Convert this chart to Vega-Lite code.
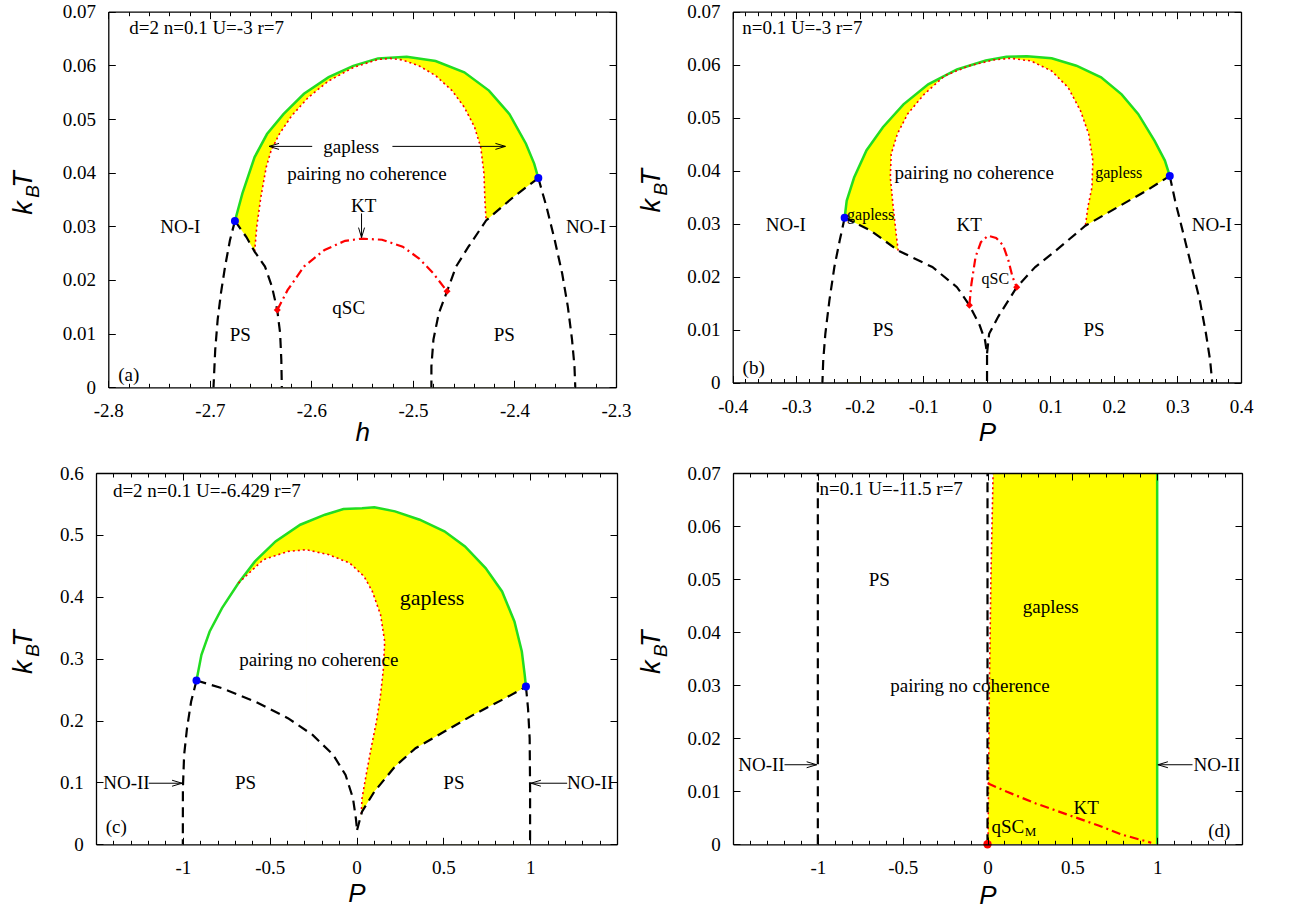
{
"$schema": "https://vega.github.io/schema/vega-lite/v6.json",
"width": 1290, "height": 911, "autosize": {"type": "none"}, "padding": 0, "background": "white",
"config": {
 "view": {"stroke": null},
 "axis": {"labelFont": "Liberation Serif", "labelFontSize": 19, "labelColor": "black", "domainColor": "black", "domainWidth": 1.3, "tickColor": "black", "tickWidth": 1, "grid": false, "zindex": 1, "labelFlush": false, "labelOverlap": false, "titleFont": "Liberation Sans", "titleFontStyle": "italic", "titleFontWeight": "normal", "titleFontSize": 26, "titleColor": "black"},
 "text": {"font": "Liberation Serif", "fontSize": 19, "color": "black"}
},
"datasets": {
 "a_green": [{"x":-2.6753,"y":0.031},{"x":-2.668,"y":0.0361},{"x":-2.6559,"y":0.0429},{"x":-2.6437,"y":0.0472},{"x":-2.6275,"y":0.0509},{"x":-2.6073,"y":0.0547},{"x":-2.583,"y":0.0578},{"x":-2.5587,"y":0.0599},{"x":-2.5344,"y":0.0613},{"x":-2.5061,"y":0.0616},{"x":-2.4777,"y":0.0608},{"x":-2.4494,"y":0.0587},{"x":-2.4251,"y":0.0553},{"x":-2.4049,"y":0.0509},{"x":-2.3887,"y":0.0454},{"x":-2.3806,"y":0.0417},{"x":-2.3765,"y":0.039}],
 "a_wv": [{"x":-2.677,"y":0.0312},{"x":-2.6753,"y":0.031},{"x":-2.664,"y":0.028},{"x":-2.6559,"y":0.0253},{"x":-2.4279,"y":0.0311},{"x":-2.4008,"y":0.0355},{"x":-2.3765,"y":0.039},{"x":-2.375,"y":0.0392}],
 "a_wl": [{"y":0,"x":-2.6559},{"y":0.0253,"x":-2.6559},{"y":0.0299,"x":-2.6538},{"y":0.0354,"x":-2.6498},{"y":0.041,"x":-2.6445},{"y":0.0441,"x":-2.6397},{"y":0.0472,"x":-2.6316},{"y":0.0506,"x":-2.6194},{"y":0.054,"x":-2.6032},{"y":0.0571,"x":-2.583},{"y":0.0596,"x":-2.5587},{"y":0.0611,"x":-2.5344},{"y":0.0613,"x":-2.5223}],
 "a_wr": [{"y":0,"x":-2.4279},{"y":0.0311,"x":-2.4279},{"y":0.0348,"x":-2.4291},{"y":0.0398,"x":-2.43},{"y":0.0447,"x":-2.4332},{"y":0.0485,"x":-2.4393},{"y":0.0522,"x":-2.4494},{"y":0.0553,"x":-2.4615},{"y":0.0581,"x":-2.4777},{"y":0.0599,"x":-2.4939},{"y":0.061,"x":-2.5101},{"y":0.0612,"x":-2.518}],
 "a_red": [{"x":-2.6559,"y":0.0253},{"x":-2.6538,"y":0.0299},{"x":-2.6498,"y":0.0354},{"x":-2.6445,"y":0.041},{"x":-2.6397,"y":0.0441},{"x":-2.6316,"y":0.0472},{"x":-2.6194,"y":0.0506},{"x":-2.6032,"y":0.054},{"x":-2.583,"y":0.0571},{"x":-2.5587,"y":0.0596},{"x":-2.5344,"y":0.0611},{"x":-2.5223,"y":0.0613},{"x":-2.5101,"y":0.061},{"x":-2.4939,"y":0.0599},{"x":-2.4777,"y":0.0581},{"x":-2.4615,"y":0.0553},{"x":-2.4494,"y":0.0522},{"x":-2.4393,"y":0.0485},{"x":-2.4332,"y":0.0447},{"x":-2.43,"y":0.0398},{"x":-2.4291,"y":0.0348},{"x":-2.4279,"y":0.0311}],
 "a_dash": [
  {"s":1,"x":-2.6753,"y":0.031},{"s":1,"x":-2.6802,"y":0.0274},{"s":1,"x":-2.685,"y":0.0225},{"s":1,"x":-2.6891,"y":0.0175},{"s":1,"x":-2.6923,"y":0.0126},{"s":1,"x":-2.6947,"y":0.007},{"s":1,"x":-2.6964,"y":0},
  {"s":2,"x":-2.6753,"y":0.031},{"s":2,"x":-2.664,"y":0.028},{"s":2,"x":-2.6559,"y":0.0253},{"s":2,"x":-2.6457,"y":0.0225},{"s":2,"x":-2.6389,"y":0.0188},{"s":2,"x":-2.6336,"y":0.0144},{"s":2,"x":-2.6308,"y":0.0101},{"s":2,"x":-2.6296,"y":0.0051},{"s":2,"x":-2.6291,"y":0},
  {"s":3,"x":-2.3765,"y":0.039},{"s":3,"x":-2.4008,"y":0.0355},{"s":3,"x":-2.4279,"y":0.0311},{"s":3,"x":-2.4453,"y":0.0262},{"s":3,"x":-2.4575,"y":0.0225},{"s":3,"x":-2.4664,"y":0.0179},{"s":3,"x":-2.4745,"y":0.0138},{"s":3,"x":-2.4798,"y":0.0089},{"s":3,"x":-2.4818,"y":0.0039},{"s":3,"x":-2.4818,"y":0},
  {"s":4,"x":-2.3765,"y":0.039},{"s":4,"x":-2.3684,"y":0.0336},{"s":4,"x":-2.3603,"y":0.0274},{"s":4,"x":-2.353,"y":0.0212},{"s":4,"x":-2.3474,"y":0.015},{"s":4,"x":-2.3433,"y":0.0089},{"s":4,"x":-2.3409,"y":0.0039},{"s":4,"x":-2.3401,"y":0}],
 "a_kt": [{"x":-2.6336,"y":0.0144},{"x":-2.6235,"y":0.0181},{"x":-2.6073,"y":0.0225},{"x":-2.587,"y":0.0256},{"x":-2.5668,"y":0.0273},{"x":-2.5506,"y":0.0277},{"x":-2.5304,"y":0.0275},{"x":-2.5101,"y":0.0262},{"x":-2.4939,"y":0.024},{"x":-2.4798,"y":0.0212},{"x":-2.4664,"y":0.0179}],
 "a_blue": [{"x":-2.6753,"y":0.031},{"x":-2.3765,"y":0.039}],
 "a_dia": [{"x":-2.6336,"y":0.0144},{"x":-2.4664,"y":0.0179}],
 "a_arr": [{"x1":-2.5992,"x2":-2.6417,"y1":0.0449,"y2":0.0449},{"x1":-2.5202,"x2":-2.4089,"y1":0.0449,"y2":0.0449},{"x1":-2.5506,"x2":-2.5506,"y1":0.0324,"y2":0.0279}],
 "a_head": [{"x":-2.6417,"y":0.0449,"d":"L"},{"x":-2.4089,"y":0.0449,"d":"R"},{"x":-2.5506,"y":0.0279,"d":"D"}],
 "a_lab": [{"x":-2.5607,"y":0.0447,"t":"gapless"},{"x":-2.5453,"y":0.0397,"t":"pairing no coherence"},{"x":-2.5486,"y":0.0338,"t":"KT"},{"x":-2.7291,"y":0.0299,"t":"NO-I"},{"x":-2.3296,"y":0.0299,"t":"NO-I"},{"x":-2.5632,"y":0.0147,"t":"qSC"},{"x":-2.67,"y":0.0098,"t":"PS"},{"x":-2.41,"y":0.0098,"t":"PS"},{"x":-2.7798,"y":0.0022,"t":"(a)"}],
 "a_par": [{"x":-2.7794,"y":0.067,"t":"d=2 n=0.1 U=-3 r=7"}],
 "a_tt": [{"x":-2.883,"y":0.03342,"t":"k"},{"x":-2.883,"y":0.03873,"t":"T"}],
 "a_tb": [{"x":-2.8742,"y":0.03649,"t":"B"}],

 "b_green": [{"x":-0.2238,"y":0.0311},{"x":-0.2206,"y":0.0343},{"x":-0.2089,"y":0.0387},{"x":-0.1895,"y":0.0438},{"x":-0.1636,"y":0.0482},{"x":-0.1312,"y":0.0525},{"x":-0.0923,"y":0.0563},{"x":-0.047,"y":0.0591},{"x":-0.0016,"y":0.0608},{"x":0.0308,"y":0.0615},{"x":0.0632,"y":0.0616},{"x":0.102,"y":0.0612},{"x":0.1409,"y":0.0598},{"x":0.1798,"y":0.0576},{"x":0.2121,"y":0.0544},{"x":0.2381,"y":0.0507},{"x":0.264,"y":0.0456},{"x":0.2802,"y":0.0419},{"x":0.2879,"y":0.039}],
 "b_wv": [{"x":-0.2255,"y":0.0312},{"x":-0.2238,"y":0.0311},{"x":-0.183,"y":0.0287},{"x":-0.1396,"y":0.0249},{"x":0.1551,"y":0.0296},{"x":0.2057,"y":0.0331},{"x":0.251,"y":0.0362},{"x":0.2879,"y":0.039},{"x":0.2895,"y":0.0391}],
 "b_wl": [{"y":0,"x":-0.1396},{"y":0.0249,"x":-0.1396},{"y":0.0281,"x":-0.1428},{"y":0.0331,"x":-0.1474},{"y":0.0387,"x":-0.1519},{"y":0.0431,"x":-0.1506},{"y":0.0469,"x":-0.1409},{"y":0.0507,"x":-0.1247},{"y":0.0544,"x":-0.0988},{"y":0.0579,"x":-0.0664},{"y":0.0598,"x":-0.0275},{"y":0.0609,"x":0.0113},{"y":0.0612,"x":0.0372}],
 "b_wr": [{"y":0,"x":0.1551},{"y":0.0296,"x":0.1551},{"y":0.0331,"x":0.159},{"y":0.0369,"x":0.1655},{"y":0.0419,"x":0.1668},{"y":0.0469,"x":0.1603},{"y":0.0513,"x":0.1474},{"y":0.0557,"x":0.1279},{"y":0.0588,"x":0.102},{"y":0.0607,"x":0.0696},{"y":0.0612,"x":0.0372}],
 "b_red": [{"x":-0.1396,"y":0.0249},{"x":-0.1428,"y":0.0281},{"x":-0.1474,"y":0.0331},{"x":-0.1519,"y":0.0387},{"x":-0.1506,"y":0.0431},{"x":-0.1409,"y":0.0469},{"x":-0.1247,"y":0.0507},{"x":-0.0988,"y":0.0544},{"x":-0.0664,"y":0.0579},{"x":-0.0275,"y":0.0598},{"x":0.0113,"y":0.0609},{"x":0.0372,"y":0.0612},{"x":0.0696,"y":0.0607},{"x":0.102,"y":0.0588},{"x":0.1279,"y":0.0557},{"x":0.1474,"y":0.0513},{"x":0.1603,"y":0.0469},{"x":0.1668,"y":0.0419},{"x":0.1655,"y":0.0369},{"x":0.159,"y":0.0331},{"x":0.1551,"y":0.0296}],
 "b_dash": [
  {"s":1,"x":-0.2238,"y":0.0311},{"s":1,"x":-0.2316,"y":0.0268},{"s":1,"x":-0.24,"y":0.0218},{"s":1,"x":-0.2478,"y":0.0155},{"s":1,"x":-0.2542,"y":0.0092},{"s":1,"x":-0.2575,"y":0.0042},{"s":1,"x":-0.2588,"y":0},
  {"s":2,"x":-0.2238,"y":0.0311},{"s":2,"x":-0.183,"y":0.0287},{"s":2,"x":-0.1396,"y":0.0249},{"s":2,"x":-0.0858,"y":0.0218},{"s":2,"x":-0.047,"y":0.018},{"s":2,"x":-0.0275,"y":0.0146},{"s":2,"x":-0.0113,"y":0.0108},{"s":2,"x":-0.0029,"y":0.008},{"s":2,"x":0.0003,"y":0.0055},{"s":2,"x":0.0003,"y":0},
  {"s":3,"x":0.0003,"y":0.0055},{"s":3,"x":0.0036,"y":0.0092},{"s":3,"x":0.0178,"y":0.0124},{"s":3,"x":0.047,"y":0.018},{"s":3,"x":0.0761,"y":0.0218},{"s":3,"x":0.1085,"y":0.0249},{"s":3,"x":0.1551,"y":0.0296},{"s":3,"x":0.2057,"y":0.0331},{"s":3,"x":0.251,"y":0.0362},{"s":3,"x":0.2879,"y":0.039},
  {"s":4,"x":0.2879,"y":0.039},{"s":4,"x":0.2963,"y":0.0343},{"s":4,"x":0.3093,"y":0.0281},{"s":4,"x":0.3223,"y":0.0218},{"s":4,"x":0.3352,"y":0.0155},{"s":4,"x":0.3449,"y":0.0092},{"s":4,"x":0.3514,"y":0.0042},{"s":4,"x":0.3547,"y":0}],
 "b_kt": [{"x":-0.0275,"y":0.0146},{"x":-0.0243,"y":0.0186},{"x":-0.0178,"y":0.0237},{"x":-0.0094,"y":0.0265},{"x":0.0016,"y":0.0277},{"x":0.0146,"y":0.0273},{"x":0.0256,"y":0.0259},{"x":0.034,"y":0.023},{"x":0.0405,"y":0.0199},{"x":0.047,"y":0.018}],
 "b_blue": [{"x":-0.2238,"y":0.0311},{"x":0.2879,"y":0.039}],
 "b_dia": [{"x":-0.0275,"y":0.0146},{"x":0.047,"y":0.018}],
 "b_lab": [{"x":-0.0198,"y":0.0396,"t":"pairing no coherence"},{"x":-0.3164,"y":0.0298,"t":"NO-I"},{"x":0.354,"y":0.0298,"t":"NO-I"},{"x":-0.0278,"y":0.0298,"t":"KT"},{"x":-0.1629,"y":0.0099,"t":"PS"},{"x":0.1687,"y":0.0099,"t":"PS"},{"x":-0.367,"y":0.0028,"t":"(b)"}],
 "b_sm": [{"x":0.2076,"y":0.0396,"t":"gapless"},{"x":-0.183,"y":0.0316,"t":"gapless"},{"x":0.0133,"y":0.0196,"t":"qSC"}],
 "b_par": [{"x":-0.3851,"y":0.067,"t":"n=0.1 U=-3 r=7"}],
 "b_tt": [{"x":-0.5271,"y":0.03338,"t":"k"},{"x":-0.5271,"y":0.03875,"t":"T"}],
 "b_tb": [{"x":-0.5129,"y":0.03649,"t":"B"}],

 "c_green": [{"x":-0.9214,"y":0.2647},{"x":-0.8929,"y":0.3062},{"x":-0.8455,"y":0.3439},{"x":-0.7744,"y":0.3817},{"x":-0.6795,"y":0.4221},{"x":-0.5847,"y":0.4571},{"x":-0.4661,"y":0.4895},{"x":-0.3238,"y":0.5164},{"x":-0.1815,"y":0.5326},{"x":-0.0748,"y":0.5418},{"x":0.0319,"y":0.5429},{"x":0.1031,"y":0.5445},{"x":0.2216,"y":0.538},{"x":0.3639,"y":0.5245},{"x":0.5062,"y":0.5057},{"x":0.6247,"y":0.4814},{"x":0.7433,"y":0.4464},{"x":0.8382,"y":0.4086},{"x":0.9093,"y":0.3601},{"x":0.952,"y":0.3116},{"x":0.9686,"y":0.2739},{"x":0.9757,"y":0.255}],
 "c_wv": [{"x":-0.02,"y":0.0232},{"x":0.0034,"y":0.0232},{"x":0.0319,"y":0.0528},{"x":0.1031,"y":0.0852},{"x":0.2216,"y":0.1256},{"x":0.3402,"y":0.1553},{"x":0.5062,"y":0.1822},{"x":0.6722,"y":0.2092},{"x":0.8382,"y":0.2334},{"x":0.9449,"y":0.2496},{"x":0.9757,"y":0.255},{"x":0.979,"y":0.2555}],
 "c_wl": [{"y":0,"x":-0.7},{"y":0.42,"x":-0.7},{"y":0.4221,"x":-0.6795},{"y":0.4598,"x":-0.5372},{"y":0.4733,"x":-0.395},{"y":0.476,"x":-0.2883}],
 "c_wr": [{"y":0,"x":0.008},{"y":0.0232,"x":0.008},{"y":0.0474,"x":0.0272},{"y":0.0744,"x":0.0319},{"y":0.1121,"x":0.0556},{"y":0.1553,"x":0.0841},{"y":0.1984,"x":0.1149},{"y":0.2415,"x":0.1386},{"y":0.2846,"x":0.1552},{"y":0.3278,"x":0.1623},{"y":0.3709,"x":0.1386},{"y":0.4086,"x":0.0912},{"y":0.4329,"x":0.0438},{"y":0.4545,"x":-0.0393},{"y":0.4679,"x":-0.1578},{"y":0.476,"x":-0.2883}],
 "c_red": [{"x":-0.6795,"y":0.4221},{"x":-0.5372,"y":0.4598},{"x":-0.395,"y":0.4733},{"x":-0.2883,"y":0.476},{"x":-0.1578,"y":0.4679},{"x":-0.0393,"y":0.4545},{"x":0.0438,"y":0.4329},{"x":0.0912,"y":0.4086},{"x":0.1386,"y":0.3709},{"x":0.1623,"y":0.3278},{"x":0.1552,"y":0.2846},{"x":0.1386,"y":0.2415},{"x":0.1149,"y":0.1984},{"x":0.0841,"y":0.1553},{"x":0.0556,"y":0.1121},{"x":0.0319,"y":0.0744},{"x":0.0272,"y":0.0474}],
 "c_dash": [
  {"s":1,"x":-0.9214,"y":0.2647},{"s":1,"x":-0.9522,"y":0.2307},{"s":1,"x":-0.9759,"y":0.1876},{"s":1,"x":-0.9925,"y":0.1445},{"s":1,"x":-0.9996,"y":0.0906},{"s":1,"x":-1.0,"y":0},
  {"s":2,"x":-0.9214,"y":0.2647},{"s":2,"x":-0.7744,"y":0.2523},{"s":2,"x":-0.5847,"y":0.2307},{"s":2,"x":-0.395,"y":0.2038},{"s":2,"x":-0.2527,"y":0.1768},{"s":2,"x":-0.1341,"y":0.1445},{"s":2,"x":-0.063,"y":0.1121},{"s":2,"x":-0.0203,"y":0.0744},{"s":2,"x":-0.0036,"y":0.042},{"s":2,"x":0.0034,"y":0.0232},
  {"s":3,"x":0.0034,"y":0.0232},{"s":3,"x":0.0319,"y":0.0528},{"s":3,"x":0.1031,"y":0.0852},{"s":3,"x":0.2216,"y":0.1256},{"s":3,"x":0.3402,"y":0.1553},{"s":3,"x":0.5062,"y":0.1822},{"s":3,"x":0.6722,"y":0.2092},{"s":3,"x":0.8382,"y":0.2334},{"s":3,"x":0.9449,"y":0.2496},{"s":3,"x":0.9757,"y":0.255},
  {"s":4,"x":0.9757,"y":0.255},{"s":4,"x":0.9876,"y":0.2199},{"s":4,"x":0.9971,"y":0.1714},{"s":4,"x":0.9995,"y":0.0906},{"s":4,"x":0.9995,"y":0}],
 "c_blue": [{"x":-0.9214,"y":0.2647},{"x":0.9757,"y":0.255}],
 "c_arr": [{"x1":-1.1965,"x2":-1.0044,"y1":0.0987,"y2":0.0987},{"x1":1.2129,"x2":1.0042,"y1":0.0987,"y2":0.0987}],
 "c_head": [{"x":-1.0044,"y":0.0987,"d":"R"},{"x":1.0042,"y":0.0987,"d":"L"}],
 "c_lab": [{"x":-0.2171,"y":0.2981,"t":"pairing no coherence"},{"x":-0.6392,"y":0.0987,"t":"PS"},{"x":0.5607,"y":0.0987,"t":"PS"},{"x":-1.3245,"y":0.0987,"t":"NO-II"},{"x":1.3456,"y":0.0987,"t":"NO-II"},{"x":-1.3838,"y":0.0286,"t":"(c)"}],
 "c_big": [{"x":0.435,"y":0.3978,"t":"gapless"}],
 "c_par": [{"x":-1.4028,"y":0.5704,"t":"d=2 n=0.1 U=-6.429 r=7"}],
 "c_tt": [{"x":-1.9146,"y":0.2863,"t":"k"},{"x":-1.9146,"y":0.3327,"t":"T"}],
 "c_tb": [{"x":-1.8628,"y":0.3133,"t":"B"}],

 "d_red": [{"y":0,"x":0.003},{"y":0.0106,"x":0.006},{"y":0.0294,"x":0.011},{"y":0.05,"x":0.02},{"y":0.07,"x":0.033}],
 "d_green": [{"x":1,"y":0},{"x":1,"y":0.07}],
 "d_dash": [{"s":1,"x":-1,"y":0},{"s":1,"x":-1,"y":0.07},{"s":2,"x":0,"y":0},{"s":2,"x":0,"y":0.07}],
 "d_kt": [{"x":0.001,"y":0.0115},{"x":0.115,"y":0.0099},{"x":0.285,"y":0.0077},{"x":0.48,"y":0.0055},{"x":0.65,"y":0.0036},{"x":0.795,"y":0.0018},{"x":0.965,"y":0.0003}],
 "d_pt": [{"x":0,"y":0}],
 "d_arr": [{"x1":-1.1964,"x2":-1.0069,"y1":0.015,"y2":0.015},{"x1":1.2083,"x2":1.0043,"y1":0.015,"y2":0.015}],
 "d_head": [{"x":-1.0069,"y":0.015,"d":"R"},{"x":1.0043,"y":0.015,"d":"L"}],
 "d_lab": [{"x":-0.6377,"y":0.0499,"t":"PS"},{"x":0.3727,"y":0.0447,"t":"gapless"},{"x":-0.1034,"y":0.0299,"t":"pairing no coherence"},{"x":-1.3324,"y":0.015,"t":"NO-II"},{"x":1.3516,"y":0.015,"t":"NO-II"},{"x":0.5816,"y":0.0069,"t":"KT"},{"x":1.3662,"y":0.0025,"t":"(d)"},{"x":0.1201,"y":0.00333,"t":"qSC"}],
 "d_sub": [{"x":0.2537,"y":0.00226,"t":"M"}],
 "d_par": [{"x":-0.9899,"y":0.0669,"t":"n=0.1 U=-11.5 r=7"}],
 "d_tt": [{"x":-1.9774,"y":0.0334,"t":"k"},{"x":-1.9774,"y":0.03877,"t":"T"}],
 "d_tb": [{"x":-1.9244,"y":0.03651,"t":"B"}]
},
"resolve": {"scale": {"x": "independent", "y": "independent"}, "axis": {"x": "independent", "y": "independent"}},
"layer": [
 {
  "encoding": {"x": {"field":"x","type":"quantitative","scale":{"domain":[-2.8,-2.3],"range":[108.3,616],"nice":false,"zero":false},"axis":null},
               "y": {"field":"y","type":"quantitative","scale":{"domain":[0,0.07],"range":[387.3,11.7],"nice":false,"zero":false},"axis":null}},
  "resolve": {"axis": {"x": "independent", "y": "independent"}},
  "layer": [
   {"data":{"name":"a_green"},"mark":{"type":"area","color":"#ffff00","opacity":1},
    "encoding":{"x":{"field":"x","type":"quantitative","scale":{"domain":[-2.8,-2.3],"range":[108.3,616],"nice":false,"zero":false},
      "axis":{"orient":"bottom","zindex":1,"offset":-523.7,"values":[-2.8,-2.78,-2.76,-2.74,-2.72,-2.7,-2.68,-2.66,-2.64,-2.62,-2.6,-2.58,-2.56,-2.54,-2.52,-2.5,-2.48,-2.46,-2.44,-2.42,-2.4,-2.38,-2.36,-2.34,-2.32,-2.3],
       "labelExpr":"abs(datum.value*10-round(datum.value*10))<0.001 ? ''+datum.value : ''","tickSize":{"condition":{"test":"abs(datum.value*10-round(datum.value*10))<0.001","value":-7},"value":-4},
       "labelPadding":21.5,"title":"h","titleY":52.7,"titleBaseline":"alphabetic"}},
     "y":{"field":"y","type":"quantitative","scale":{"domain":[0,0.07],"range":[387.3,11.7],"nice":false,"zero":false},
      "axis":{"orient":"left","zindex":1,"offset":-108.3,"values":[0,0.01,0.02,0.03,0.04,0.05,0.06,0.07],"labelExpr":"''+datum.value","tickSize":-7,"labelPadding":19.8,"title":null}},
     "y2":{"datum":0}}},
   {"data":{"name":"a_wv"},"mark":{"type":"area","color":"white","opacity":1},
    "encoding":{"x":{"field":"x","type":"quantitative","scale":{"domain":[-2.8,-2.3],"range":[108.3,616],"nice":false,"zero":false},
      "axis":{"orient":"top","zindex":1,"offset":-11.7,"values":[-2.8,-2.78,-2.76,-2.74,-2.72,-2.7,-2.68,-2.66,-2.64,-2.62,-2.6,-2.58,-2.56,-2.54,-2.52,-2.5,-2.48,-2.46,-2.44,-2.42,-2.4,-2.38,-2.36,-2.34,-2.32,-2.3],
       "labels":false,"tickSize":{"condition":{"test":"abs(datum.value*10-round(datum.value*10))<0.001","value":-7},"value":-4},"title":null}},
     "y":{"field":"y","type":"quantitative","scale":{"domain":[0,0.07],"range":[387.3,11.7],"nice":false,"zero":false},
      "axis":{"orient":"right","zindex":1,"offset":-674,"values":[0,0.01,0.02,0.03,0.04,0.05,0.06,0.07],"labels":false,"tickSize":-7,"title":null}},
     "y2":{"datum":0}}},
   {"data":{"name":"a_wl"},"mark":{"type":"area","orient":"horizontal","color":"white","opacity":1},"encoding":{"x2":{"datum":-2.514}}},
   {"data":{"name":"a_wr"},"mark":{"type":"area","orient":"horizontal","color":"white","opacity":1},"encoding":{"x2":{"datum":-2.518}}},
   {"data":{"name":"a_green"},"mark":{"type":"line","color":"#22dd22","strokeWidth":2.5,"order":false}},
   {"data":{"name":"a_red"},"mark":{"type":"line","color":"#ff0000","strokeWidth":1.6,"strokeDash":[2,3],"order":false}},
   {"data":{"name":"a_dash"},"mark":{"type":"line","color":"black","strokeWidth":2.2,"strokeDash":[10,6],"order":false},"encoding":{"detail":{"field":"s","type":"nominal"}}},
   {"data":{"name":"a_kt"},"mark":{"type":"line","color":"#ff0000","strokeWidth":2.2,"strokeDash":[9,4,2,4],"order":false}},
   {"data":{"name":"a_blue"},"mark":{"type":"point","filled":true,"color":"#0000ff","size":64,"opacity":1}},
   {"data":{"name":"a_dia"},"mark":{"type":"point","shape":"diamond","filled":true,"color":"#ff0000","size":50,"opacity":1}},
   {"data":{"name":"a_arr"},"mark":{"type":"rule","color":"black","strokeWidth":1},
    "encoding":{"x":{"field":"x1","type":"quantitative","axis":null},"x2":{"field":"x2"},"y":{"field":"y1","type":"quantitative","axis":null},"y2":{"field":"y2"}}},
   {"data":{"name":"a_head"},"mark":{"type":"point","filled":false,"color":"black","strokeWidth":1,"size":100,"opacity":1},
    "encoding":{"shape":{"field":"d","type":"nominal","scale":{"domain":["L","R","D"],"range":["M2,-0.6L0,0L2,0.6","M-2,-0.6L0,0L-2,0.6","M-0.6,-2L0,0L0.6,-2"]},"legend":null}}},
   {"data":{"name":"a_lab"},"mark":{"type":"text"},"encoding":{"text":{"field":"t"}}},
   {"data":{"name":"a_par"},"mark":{"type":"text","align":"left"},"encoding":{"text":{"field":"t"}}},
   {"data":{"name":"a_tt"},"mark":{"type":"text","font":"Liberation Sans","fontStyle":"italic","fontSize":27,"angle":270},"encoding":{"text":{"field":"t"}}},
   {"data":{"name":"a_tb"},"mark":{"type":"text","font":"Liberation Sans","fontStyle":"italic","fontSize":19,"angle":270},"encoding":{"text":{"field":"t"}}}
  ]
 },
 {
  "encoding": {"x": {"field":"x","type":"quantitative","scale":{"domain":[-0.4,0.4],"range":[732.7,1241],"nice":false,"zero":false},"axis":null},
               "y": {"field":"y","type":"quantitative","scale":{"domain":[0,0.07],"range":[382.5,11.7],"nice":false,"zero":false},"axis":null}},
  "resolve": {"axis": {"x": "independent", "y": "independent"}},
  "layer": [
   {"data":{"name":"b_green"},"mark":{"type":"area","color":"#ffff00","opacity":1},
    "encoding":{"x":{"field":"x","type":"quantitative","scale":{"domain":[-0.4,0.4],"range":[732.7,1241],"nice":false,"zero":false},
      "axis":{"orient":"bottom","zindex":1,"offset":-528.5,"values":[-0.4,-0.38,-0.36,-0.34,-0.32,-0.3,-0.28,-0.26,-0.24,-0.22,-0.2,-0.18,-0.16,-0.14,-0.12,-0.1,-0.08,-0.06,-0.04,-0.02,0,0.02,0.04,0.06,0.08,0.1,0.12,0.14,0.16,0.18,0.2,0.22,0.24,0.26,0.28,0.3,0.32,0.34,0.36,0.38,0.4],
       "labelExpr":"abs(datum.value*10-round(datum.value*10))<0.001 ? ''+datum.value : ''","tickSize":{"condition":{"test":"abs(datum.value*10-round(datum.value*10))<0.001","value":-7},"value":-4},
       "labelPadding":21.5,"title":"P","titleY":57.5,"titleBaseline":"alphabetic"}},
     "y":{"field":"y","type":"quantitative","scale":{"domain":[0,0.07],"range":[382.5,11.7],"nice":false,"zero":false},
      "axis":{"orient":"left","zindex":1,"offset":-732.7,"values":[0,0.01,0.02,0.03,0.04,0.05,0.06,0.07],"labelExpr":"''+datum.value","tickSize":-7,"labelPadding":19.8,"title":null}},
     "y2":{"datum":0}}},
   {"data":{"name":"b_wv"},"mark":{"type":"area","color":"white","opacity":1},
    "encoding":{"x":{"field":"x","type":"quantitative","scale":{"domain":[-0.4,0.4],"range":[732.7,1241],"nice":false,"zero":false},
      "axis":{"orient":"top","zindex":1,"offset":-11.7,"values":[-0.4,-0.38,-0.36,-0.34,-0.32,-0.3,-0.28,-0.26,-0.24,-0.22,-0.2,-0.18,-0.16,-0.14,-0.12,-0.1,-0.08,-0.06,-0.04,-0.02,0,0.02,0.04,0.06,0.08,0.1,0.12,0.14,0.16,0.18,0.2,0.22,0.24,0.26,0.28,0.3,0.32,0.34,0.36,0.38,0.4],
       "labels":false,"tickSize":{"condition":{"test":"abs(datum.value*10-round(datum.value*10))<0.001","value":-7},"value":-4},"title":null}},
     "y":{"field":"y","type":"quantitative","scale":{"domain":[0,0.07],"range":[382.5,11.7],"nice":false,"zero":false},
      "axis":{"orient":"right","zindex":1,"offset":-49,"values":[0,0.01,0.02,0.03,0.04,0.05,0.06,0.07],"labels":false,"tickSize":-7,"title":null}},
     "y2":{"datum":0}}},
   {"data":{"name":"b_wl"},"mark":{"type":"area","orient":"horizontal","color":"white","opacity":1},"encoding":{"x2":{"datum":0.0392}}},
   {"data":{"name":"b_wr"},"mark":{"type":"area","orient":"horizontal","color":"white","opacity":1},"encoding":{"x2":{"datum":0.0352}}},
   {"data":{"name":"b_green"},"mark":{"type":"line","color":"#22dd22","strokeWidth":2.5,"order":false}},
   {"data":{"name":"b_red"},"mark":{"type":"line","color":"#ff0000","strokeWidth":1.6,"strokeDash":[2,3],"order":false}},
   {"data":{"name":"b_dash"},"mark":{"type":"line","color":"black","strokeWidth":2.2,"strokeDash":[10,6],"order":false},"encoding":{"detail":{"field":"s","type":"nominal"}}},
   {"data":{"name":"b_kt"},"mark":{"type":"line","color":"#ff0000","strokeWidth":2.2,"strokeDash":[9,4,2,4],"order":false}},
   {"data":{"name":"b_blue"},"mark":{"type":"point","filled":true,"color":"#0000ff","size":64,"opacity":1}},
   {"data":{"name":"b_dia"},"mark":{"type":"point","shape":"diamond","filled":true,"color":"#ff0000","size":50,"opacity":1}},
   {"data":{"name":"b_lab"},"mark":{"type":"text"},"encoding":{"text":{"field":"t"}}},
   {"data":{"name":"b_sm"},"mark":{"type":"text","fontSize":16},"encoding":{"text":{"field":"t"}}},
   {"data":{"name":"b_par"},"mark":{"type":"text","align":"left"},"encoding":{"text":{"field":"t"}}},
   {"data":{"name":"b_tt"},"mark":{"type":"text","font":"Liberation Sans","fontStyle":"italic","fontSize":27,"angle":270},"encoding":{"text":{"field":"t"}}},
   {"data":{"name":"b_tb"},"mark":{"type":"text","font":"Liberation Sans","fontStyle":"italic","fontSize":19,"angle":270},"encoding":{"text":{"field":"t"}}}
  ]
 },
 {
  "encoding": {"x": {"field":"x","type":"quantitative","scale":{"domain":[-1.5,1.5],"range":[96,617],"nice":false,"zero":false},"axis":null},
               "y": {"field":"y","type":"quantitative","scale":{"domain":[0,0.6],"range":[844.3,473],"nice":false,"zero":false},"axis":null}},
  "resolve": {"axis": {"x": "independent", "y": "independent"}},
  "layer": [
   {"data":{"name":"c_green"},"transform":[{"filter":"datum.x >= -0.68"}],"mark":{"type":"area","color":"#ffff00","opacity":1},
    "encoding":{"x":{"field":"x","type":"quantitative","scale":{"domain":[-1.5,1.5],"range":[96,617],"nice":false,"zero":false},
      "axis":{"orient":"bottom","zindex":1,"offset":-66.7,"values":[-1.5,-1.4,-1.3,-1.2,-1.1,-1,-0.9,-0.8,-0.7,-0.6,-0.5,-0.4,-0.3,-0.2,-0.1,0,0.1,0.2,0.3,0.4,0.5,0.6,0.7,0.8,0.9,1,1.1,1.2,1.3,1.4,1.5],
       "labelExpr":"abs(datum.value*2-round(datum.value*2))<0.001 && abs(datum.value)<1.01 ? ''+datum.value : ''","tickSize":{"condition":{"test":"abs(datum.value*2-round(datum.value*2))<0.001","value":-7},"value":-4},
       "labelPadding":21.5,"title":"P","titleY":57.4,"titleBaseline":"alphabetic"}},
     "y":{"field":"y","type":"quantitative","scale":{"domain":[0,0.6],"range":[844.3,473],"nice":false,"zero":false},
      "axis":{"orient":"left","zindex":1,"offset":-96,"values":[0,0.1,0.2,0.3,0.4,0.5,0.6],"labelExpr":"''+datum.value","tickSize":-7,"labelPadding":19.8,"title":null}},
     "y2":{"datum":0}}},
   {"data":{"name":"c_wv"},"mark":{"type":"area","color":"white","opacity":1},
    "encoding":{"x":{"field":"x","type":"quantitative","scale":{"domain":[-1.5,1.5],"range":[96,617],"nice":false,"zero":false},
      "axis":{"orient":"top","zindex":1,"offset":-473,"values":[-1.5,-1.4,-1.3,-1.2,-1.1,-1,-0.9,-0.8,-0.7,-0.6,-0.5,-0.4,-0.3,-0.2,-0.1,0,0.1,0.2,0.3,0.4,0.5,0.6,0.7,0.8,0.9,1,1.1,1.2,1.3,1.4,1.5],
       "labels":false,"tickSize":{"condition":{"test":"abs(datum.value*2-round(datum.value*2))<0.001","value":-7},"value":-4},"title":null}},
     "y":{"field":"y","type":"quantitative","scale":{"domain":[0,0.6],"range":[844.3,473],"nice":false,"zero":false},
      "axis":{"orient":"right","zindex":1,"offset":-673,"values":[0,0.1,0.2,0.3,0.4,0.5,0.6],"labels":false,"tickSize":-7,"title":null}},
     "y2":{"datum":0}}},
   {"data":{"name":"c_wl"},"mark":{"type":"area","orient":"horizontal","color":"white","opacity":1},"encoding":{"x2":{"datum":-0.2863}}},
   {"data":{"name":"c_wr"},"mark":{"type":"area","orient":"horizontal","color":"white","opacity":1},"encoding":{"x2":{"datum":-0.2903}}},
   {"data":{"name":"c_green"},"mark":{"type":"line","color":"#22dd22","strokeWidth":2.5,"order":false}},
   {"data":{"name":"c_red"},"mark":{"type":"line","color":"#ff0000","strokeWidth":1.6,"strokeDash":[2,3],"order":false}},
   {"data":{"name":"c_dash"},"mark":{"type":"line","color":"black","strokeWidth":2.2,"strokeDash":[10,6],"order":false},"encoding":{"detail":{"field":"s","type":"nominal"}}},
   {"data":{"name":"c_blue"},"mark":{"type":"point","filled":true,"color":"#0000ff","size":64,"opacity":1}},
   {"data":{"name":"c_arr"},"mark":{"type":"rule","color":"black","strokeWidth":1},
    "encoding":{"x":{"field":"x1","type":"quantitative","axis":null},"x2":{"field":"x2"},"y":{"field":"y1","type":"quantitative","axis":null},"y2":{"field":"y2"}}},
   {"data":{"name":"c_head"},"mark":{"type":"point","filled":false,"color":"black","strokeWidth":1,"size":100,"opacity":1},
    "encoding":{"shape":{"field":"d","type":"nominal","scale":{"domain":["L","R","D"],"range":["M2,-0.6L0,0L2,0.6","M-2,-0.6L0,0L-2,0.6","M-0.6,-2L0,0L0.6,-2"]},"legend":null}}},
   {"data":{"name":"c_lab"},"mark":{"type":"text"},"encoding":{"text":{"field":"t"}}},
   {"data":{"name":"c_big"},"mark":{"type":"text","fontSize":22},"encoding":{"text":{"field":"t"}}},
   {"data":{"name":"c_par"},"mark":{"type":"text","align":"left"},"encoding":{"text":{"field":"t"}}},
   {"data":{"name":"c_tt"},"mark":{"type":"text","font":"Liberation Sans","fontStyle":"italic","fontSize":27,"angle":270},"encoding":{"text":{"field":"t"}}},
   {"data":{"name":"c_tb"},"mark":{"type":"text","font":"Liberation Sans","fontStyle":"italic","fontSize":19,"angle":270},"encoding":{"text":{"field":"t"}}}
  ]
 },
 {
  "encoding": {"x": {"field":"x","type":"quantitative","scale":{"domain":[-1.5,1.5],"range":[733,1242],"nice":false,"zero":false},"axis":null},
               "y": {"field":"y","type":"quantitative","scale":{"domain":[0,0.07],"range":[844.3,473],"nice":false,"zero":false},"axis":null}},
  "resolve": {"axis": {"x": "independent", "y": "independent"}},
  "layer": [
   {"data":{"name":"d_red"},"mark":{"type":"area","orient":"horizontal","color":"#ffff00","opacity":1},
    "encoding":{"x":{"field":"x","type":"quantitative","scale":{"domain":[-1.5,1.5],"range":[733,1242],"nice":false,"zero":false},
      "axis":{"orient":"bottom","zindex":1,"offset":-66.7,"values":[-1.5,-1.4,-1.3,-1.2,-1.1,-1,-0.9,-0.8,-0.7,-0.6,-0.5,-0.4,-0.3,-0.2,-0.1,0,0.1,0.2,0.3,0.4,0.5,0.6,0.7,0.8,0.9,1,1.1,1.2,1.3,1.4,1.5],
       "labelExpr":"abs(datum.value*2-round(datum.value*2))<0.001 && abs(datum.value)<1.01 ? ''+datum.value : ''","tickSize":{"condition":{"test":"abs(datum.value*2-round(datum.value*2))<0.001","value":-7},"value":-4},
       "labelPadding":21.5,"title":"P","titleY":58.7,"titleBaseline":"alphabetic"}},
     "x2":{"datum":1},
     "y":{"field":"y","type":"quantitative","scale":{"domain":[0,0.07],"range":[844.3,473],"nice":false,"zero":false},
      "axis":{"orient":"left","zindex":1,"offset":-733,"values":[0,0.01,0.02,0.03,0.04,0.05,0.06,0.07],"labelExpr":"''+datum.value","tickSize":-7,"labelPadding":19.8,"title":null}}}},
   {"data":{"name":"d_green"},"mark":{"type":"line","color":"#22dd22","strokeWidth":2.5,"order":false},
    "encoding":{"x":{"field":"x","type":"quantitative","scale":{"domain":[-1.5,1.5],"range":[733,1242],"nice":false,"zero":false},
      "axis":{"orient":"top","zindex":1,"offset":-473,"values":[-1.5,-1.4,-1.3,-1.2,-1.1,-1,-0.9,-0.8,-0.7,-0.6,-0.5,-0.4,-0.3,-0.2,-0.1,0,0.1,0.2,0.3,0.4,0.5,0.6,0.7,0.8,0.9,1,1.1,1.2,1.3,1.4,1.5],
       "labels":false,"tickSize":{"condition":{"test":"abs(datum.value*2-round(datum.value*2))<0.001","value":-7},"value":-4},"title":null}},
     "y":{"field":"y","type":"quantitative","scale":{"domain":[0,0.07],"range":[844.3,473],"nice":false,"zero":false},
      "axis":{"orient":"right","zindex":1,"offset":-48,"values":[0,0.01,0.02,0.03,0.04,0.05,0.06,0.07],"labels":false,"tickSize":-7,"title":null}}}},
   {"data":{"name":"d_red"},"mark":{"type":"line","color":"#ff0000","strokeWidth":1.6,"strokeDash":[2,3],"order":false}},
   {"data":{"name":"d_dash"},"mark":{"type":"line","color":"black","strokeWidth":2.2,"strokeDash":[10,6],"order":false},"encoding":{"detail":{"field":"s","type":"nominal"}}},
   {"data":{"name":"d_kt"},"mark":{"type":"line","color":"#ff0000","strokeWidth":2.2,"strokeDash":[9,4,2,4],"order":false}},
   {"data":{"name":"d_pt"},"mark":{"type":"point","filled":true,"color":"#ff0000","size":70,"opacity":1,"zindex":2}},
   {"data":{"name":"d_arr"},"mark":{"type":"rule","color":"black","strokeWidth":1},
    "encoding":{"x":{"field":"x1","type":"quantitative","axis":null},"x2":{"field":"x2"},"y":{"field":"y1","type":"quantitative","axis":null},"y2":{"field":"y2"}}},
   {"data":{"name":"d_head"},"mark":{"type":"point","filled":false,"color":"black","strokeWidth":1,"size":100,"opacity":1},
    "encoding":{"shape":{"field":"d","type":"nominal","scale":{"domain":["L","R","D"],"range":["M2,-0.6L0,0L2,0.6","M-2,-0.6L0,0L-2,0.6","M-0.6,-2L0,0L0.6,-2"]},"legend":null}}},
   {"data":{"name":"d_lab"},"mark":{"type":"text"},"encoding":{"text":{"field":"t"}}},
   {"data":{"name":"d_sub"},"mark":{"type":"text","fontSize":13},"encoding":{"text":{"field":"t"}}},
   {"data":{"name":"d_par"},"mark":{"type":"text","align":"left"},"encoding":{"text":{"field":"t"}}},
   {"data":{"name":"d_tt"},"mark":{"type":"text","font":"Liberation Sans","fontStyle":"italic","fontSize":27,"angle":270},"encoding":{"text":{"field":"t"}}},
   {"data":{"name":"d_tb"},"mark":{"type":"text","font":"Liberation Sans","fontStyle":"italic","fontSize":19,"angle":270},"encoding":{"text":{"field":"t"}}}
  ]
 }
]
}
